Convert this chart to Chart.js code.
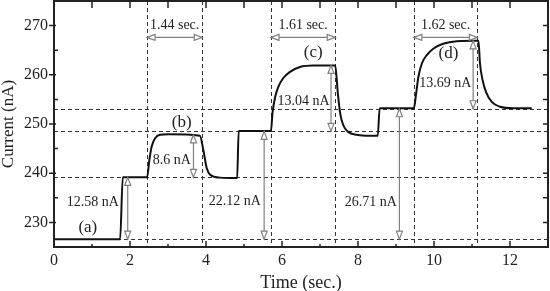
<!DOCTYPE html>
<html>
<head>
<meta charset="utf-8">
<script src="https://cdn.jsdelivr.net/npm/chart.js@4.4.1/dist/chart.umd.min.js"></script>
<style>
  html, body { margin: 0; padding: 0; background: #fff; }
  #wrap { width: 550px; height: 291px; }
</style>
</head>
<body>
<div id="wrap"><canvas id="chart"></canvas></div>
<script>
// current trace
const timeSec = [0, 1.74, 1.81, 2.45, 2.51, 2.57, 2.66, 2.79, 3.0, 3.84,
  3.93, 4.02, 4.11, 4.37, 4.76, 4.82, 4.86, 5.71, 5.75, 5.82,
  5.90, 6.03, 6.21, 6.47, 6.82, 7.35, 7.40, 7.47, 7.53, 7.61,
  7.74, 7.97, 8.32, 8.52, 8.57, 9.47, 9.53, 9.59, 9.68, 9.81,
  9.98, 10.24, 10.60, 11.12, 11.17, 11.21, 11.28, 11.37, 11.52, 11.74,
  12.09, 12.57]
const currentNA = [226.6, 226.6, 239.2, 239.2, 242.7, 245.4, 247.1, 247.8, 247.9, 247.6,
  244.7, 241.0, 239.7, 239.1, 239.0, 239.0, 248.6, 248.6, 252.2, 255.5,
  257.5, 259.3, 260.6, 261.6, 261.9, 261.9, 261.9, 256.2, 252.2, 249.8,
  248.4, 247.8, 247.6, 247.6, 253.2, 253.2, 256.2, 259.6, 262.3, 264.0,
  265.3, 266.3, 266.8, 266.9, 266.9, 262.3, 258.9, 256.5, 254.5, 253.5,
  253.2, 253.2]

const xTicks = [0, 2, 4, 6, 8, 10, 12]
const yTicks = [230, 240, 250, 260, 270]

// dashed guides
const guideTimes = [2.45, 3.90, 5.71, 7.40, 9.47, 11.14]
const guideLevels = [226.6, 239.15, 248.5, 253.1]

// horizontal duration arrows
const spanFrom = [2.45, 5.71, 9.47]
const spanTo = [3.90, 7.40, 11.14]
const spanLabels = ['1.44 sec.', '1.61 sec.', '1.62 sec.']

// vertical step arrows
const stepAt = [1.94, 3.67, 5.53, 7.29, 9.09, 11.03]
const stepLow = [226.6, 239.15, 226.6, 248.5, 226.6, 253.1]
const stepHigh = [239.15, 247.8, 248.5, 261.9, 253.1, 266.9]
const stepLabels = ['12.58 nA', '8.6 nA', '22.12 nA', '13.04 nA', '26.71 nA', '13.69 nA']
const stepLabelAt = [[1.02, 234.0], [3.10, 242.7], [4.76, 234.2], [6.57, 254.7], [8.34, 234.0], [10.30, 258.2]]

const peakLabels = ['(a)', '(b)', '(c)', '(d)']
const peakLabelAt = [[0.89, 229.0], [3.36, 250.3], [6.82, 264.5], [10.38, 264.3]]

const SERIF = '"Liberation Serif", "DejaVu Serif", serif'

function head(ctx, x, y, dx, dy) {
  const len = 8, half = 3
  const bx = x - dx * len, by = y - dy * len
  ctx.beginPath()
  ctx.moveTo(x, y)
  ctx.lineTo(bx - dy * half, by + dx * half)
  ctx.lineTo(bx + dy * half, by - dx * half)
  ctx.closePath()
  ctx.fillStyle = '#fff'
  ctx.fill()
  ctx.stroke()
}

const guides = {
  id: 'guides',
  beforeDatasetsDraw(chart) {
    const { ctx, chartArea: a, scales: { x, y } } = chart
    ctx.save()
    ctx.strokeStyle = '#333'
    ctx.lineWidth = 1
    ctx.setLineDash([4, 3])
    guideTimes.forEach(t => {
      const px = Math.round(x.getPixelForValue(t)) + 0.5
      ctx.beginPath(); ctx.moveTo(px, a.top); ctx.lineTo(px, a.bottom); ctx.stroke()
    })
    guideLevels.forEach(v => {
      const py = Math.round(y.getPixelForValue(v)) + 0.5
      ctx.beginPath(); ctx.moveTo(a.left, py); ctx.lineTo(a.right, py); ctx.stroke()
    })
    ctx.restore()
  },
  afterDatasetsDraw(chart) {
    const { ctx, scales: { x, y } } = chart
    ctx.save()
    ctx.strokeStyle = '#808080'
    ctx.lineWidth = 1.2

    spanFrom.forEach((t0, i) => {
      const x0 = x.getPixelForValue(t0), x1 = x.getPixelForValue(spanTo[i])
      const py = y.getPixelForValue(267.6)
      ctx.beginPath(); ctx.moveTo(x0, py); ctx.lineTo(x1, py); ctx.stroke()
      head(ctx, x0, py, -1, 0)
      head(ctx, x1, py, 1, 0)
    })

    stepAt.forEach((t, i) => {
      const px = x.getPixelForValue(t)
      const y0 = y.getPixelForValue(stepLow[i]), y1 = y.getPixelForValue(stepHigh[i])
      ctx.beginPath(); ctx.moveTo(px, y0); ctx.lineTo(px, y1); ctx.stroke()
      head(ctx, px, y0, 0, 1)
      head(ctx, px, y1, 0, -1)
    })

    ctx.fillStyle = '#222'
    ctx.textAlign = 'center'
    ctx.textBaseline = 'middle'
    ctx.font = '14px ' + SERIF
    spanLabels.forEach((s, i) => {
      const cx = (x.getPixelForValue(spanFrom[i]) + x.getPixelForValue(spanTo[i])) / 2
      ctx.fillText(s, cx, y.getPixelForValue(270))
    })
    stepLabels.forEach((s, i) => {
      ctx.fillText(s, x.getPixelForValue(stepLabelAt[i][0]), y.getPixelForValue(stepLabelAt[i][1]))
    })
    ctx.font = '17px ' + SERIF
    peakLabels.forEach((s, i) => {
      ctx.fillText(s, x.getPixelForValue(peakLabelAt[i][0]), y.getPixelForValue(peakLabelAt[i][1]))
    })
    ctx.restore()
  },
  afterDraw(chart) {
    const { ctx, chartArea: a, scales: { x, y } } = chart
    ctx.save()
    ctx.strokeStyle = '#222'
    ctx.lineWidth = 2
    ctx.strokeRect(a.left, a.top, a.right - a.left, a.bottom - a.top)
    ctx.lineWidth = 1.5
    ctx.beginPath()
    for (let t = 0; t <= 13; t++) {
      const px = x.getPixelForValue(t)
      const major = xTicks.includes(t)
      ctx.moveTo(px, a.bottom); ctx.lineTo(px, a.bottom - (major ? 6 : 3))
      ctx.moveTo(px, a.top); ctx.lineTo(px, a.top + 7)
    }
    for (let v = 230; v <= 270; v += 5) {
      const py = y.getPixelForValue(v)
      const major = yTicks.includes(v)
      if (major) { ctx.moveTo(a.left - 5, py); ctx.lineTo(a.left + 2, py) }
      else { ctx.moveTo(a.left, py); ctx.lineTo(a.left + 4, py) }
      ctx.moveTo(a.right, py); ctx.lineTo(a.right - 5, py)
    }
    ctx.stroke()
    ctx.restore()
  }
}

new Chart(document.getElementById('chart'), {
  type: 'line',
  data: {
    datasets: [{
      data: timeSec.map((t, i) => ({ x: t, y: currentNA[i] })),
      borderColor: '#111',
      borderWidth: 2,
      pointRadius: 0,
      cubicInterpolationMode: 'monotone',
      fill: false
    }]
  },
  options: {
    responsive: true,
    maintainAspectRatio: false,
    animation: false,
    layout: { padding: { top: 1, right: 2, left: 0, bottom: 0 } },
    plugins: {
      legend: { display: false },
      tooltip: { enabled: false }
    },
    scales: {
      x: {
        type: 'linear',
        min: 0,
        max: 13,
        afterBuildTicks: (s) => { s.ticks = xTicks.map(v => ({ value: v })) },
        afterFit: (s) => { s.height = 44; s.paddingLeft = 0; s.paddingRight = 0 },
        grid: { display: false, drawTicks: false },
        border: { display: false },
        ticks: { color: '#222', padding: 4, font: { family: SERIF, size: 16 } },
        title: { display: true, text: 'Time (sec.)', color: '#222', padding: { top: 0, bottom: -3 }, font: { family: SERIF, size: 18 } }
      },
      y: {
        min: 225,
        max: 275,
        afterBuildTicks: (s) => { s.ticks = yTicks.map(v => ({ value: v })) },
        afterFit: (s) => { s.width = 54; s.paddingTop = 0; s.paddingBottom = 0 },
        grid: { display: false, drawTicks: false },
        border: { display: false },
        ticks: { color: '#222', padding: 6, font: { family: SERIF, size: 16 } },
        title: { display: true, text: 'Current (nA)', color: '#222', padding: { top: -2, bottom: 0 }, font: { family: SERIF, size: 17 } }
      }
    }
  },
  plugins: [guides]
})
</script>
</body>
</html>
